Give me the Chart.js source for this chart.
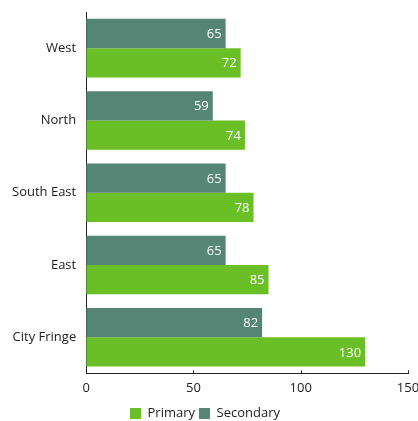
<!DOCTYPE html>
<html>
<head>
<meta charset="utf-8">
<script src="https://cdn.jsdelivr.net/npm/chart.js@4/dist/chart.umd.min.js"></script>
<style>
  html, body { margin: 0; padding: 0; background: #fff; }
  #box { width: 418px; height: 421px; }
</style>
</head>
<body>
<div id="box"><canvas id="myChart"></canvas></div>
<script>
const categories = ["West", "North", "South East", "East", "City Fringe"];
const primary = [72, 74, 78, 85, 130];
const secondary = [65, 59, 65, 65, 82];
const xTicks = [0, 50, 100, 150];

// white value labels at the end of each bar
const valueLabels = {
  id: "valueLabels",
  afterDatasetsDraw(chart) {
    const ctx = chart.ctx;
    ctx.save();
    ctx.fillStyle = "#ffffff";
    ctx.font = "13px 'Open Sans', sans-serif";
    ctx.textAlign = "right";
    ctx.textBaseline = "middle";
    chart.data.datasets.forEach((ds, i) => {
      chart.getDatasetMeta(i).data.forEach((bar, j) => {
        ctx.fillText(ds.data[j], bar.x - 4, bar.y + 1);
      });
    });
    ctx.restore();
  },
};

// small upward tick marks on the x axis
const upTicks = {
  id: "upTicks",
  afterDraw(chart) {
    const x = chart.scales.x;
    const ctx = chart.ctx;
    ctx.save();
    ctx.strokeStyle = "#222";
    ctx.lineWidth = 1;
    xTicks.forEach((v) => {
      const px = Math.round(x.getPixelForValue(v)) + 0.5;
      ctx.beginPath();
      ctx.moveTo(px, x.top);
      ctx.lineTo(px, x.top - 3);
      ctx.stroke();
    });
    ctx.restore();
  },
};

const ctx = document.getElementById("myChart").getContext("2d");
new Chart(ctx, {
  type: "bar",
  data: {
    labels: categories,
    datasets: [
      {
        label: "Secondary",
        data: secondary,
        backgroundColor: "#558574",
        barPercentage: 1,
        categoryPercentage: 0.81,
      },
      {
        label: "Primary",
        data: primary,
        backgroundColor: "#6abf27",
        barPercentage: 1,
        categoryPercentage: 0.81,
      },
    ],
  },
  options: {
    indexAxis: "y",
    responsive: true,
    maintainAspectRatio: false,
    animation: false,
    layout: { padding: { top: 12, right: 10, left: 2, bottom: -9 } },
    plugins: {
      tooltip: { enabled: false },
      legend: {
        position: "bottom",
        reverse: true,
        labels: {
          boxWidth: 11,
          boxHeight: 11,
          padding: 4,
          color: "#222",
          font: { family: "'Open Sans', sans-serif", size: 13 },
        },
      },
    },
    scales: {
      x: {
        min: 0,
        max: 150,
        afterBuildTicks(axis) {
          axis.ticks = xTicks.map((v) => ({ value: v }));
        },
        afterFit(axis) {
          axis.paddingLeft = 0;
          axis.paddingRight = 0;
        },
        grid: { display: false, drawTicks: false },
        border: { display: true, color: "#222", width: 1 },
        ticks: {
          color: "#222",
          padding: 7,
          font: { family: "'Open Sans', sans-serif", size: 13 },
        },
      },
      y: {
        afterFit(axis) {
          axis.paddingTop = 0;
          axis.paddingBottom = 0;
        },
        grid: { display: false, drawTicks: false },
        border: { display: true, color: "#222", width: 1 },
        ticks: {
          color: "#222",
          padding: 10,
          font: { family: "'Open Sans', sans-serif", size: 13 },
        },
      },
    },
  },
  plugins: [valueLabels, upTicks],
});
</script>
</body>
</html>
